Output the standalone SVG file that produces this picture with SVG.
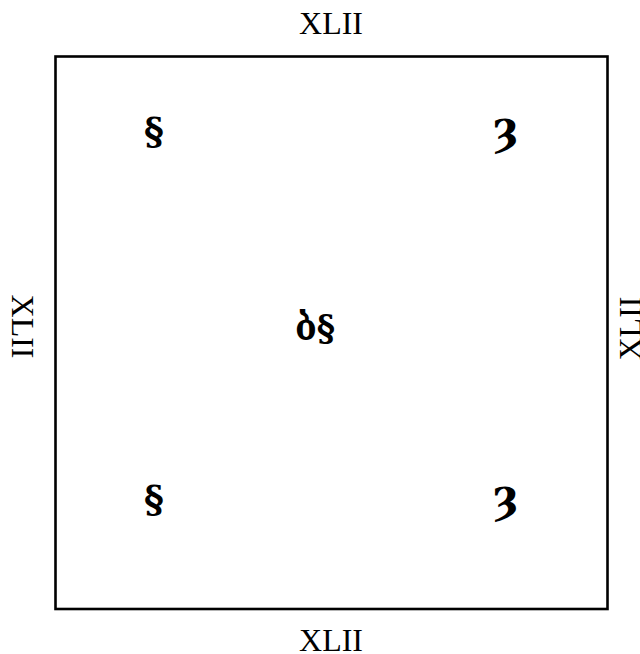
<svg xmlns="http://www.w3.org/2000/svg" width="640" height="654" viewBox="0 0 640 654">
<style>
.lbl{font-family:"Liberation Serif","Times New Roman",serif;font-size:32px;fill:#000;text-anchor:middle}
.sym{font-family:"DejaVu Serif","Liberation Serif",serif;font-weight:bold;font-size:38px;fill:#000;text-anchor:middle}
.ctr{font-family:"DejaVu Serif","Liberation Serif",serif;font-weight:bold;font-size:35px;fill:#000;text-anchor:middle}
</style>
<rect width="640" height="654" fill="#fff"/>
<g id="frame">
<rect x="55.5" y="56.5" width="552" height="552.5" fill="none" stroke="#000" stroke-width="2.6"/>
</g>
<g id="label-top"><text class="lbl" x="331" y="33.5">XLII</text></g>
<g id="label-bottom"><text class="lbl" x="331" y="651">XLII</text></g>
<g id="label-left"><text class="lbl" transform="translate(11.5,326.5) rotate(90)">XLII</text></g>
<g id="label-right"><text class="lbl" transform="translate(641,328.5) rotate(-90)">XLII</text></g>
<g id="corner-tl"><text class="sym" x="154" y="144">§</text></g>
<g id="corner-tr"><text class="sym" x="505.5" y="146">Ȝ</text></g>
<g id="corner-bl"><text class="sym" x="154" y="512">§</text></g>
<g id="corner-br"><text class="sym" x="505.5" y="514">Ȝ</text></g>
<g id="center"><text class="ctr" x="315" y="340">ბ§</text></g>
</svg>
